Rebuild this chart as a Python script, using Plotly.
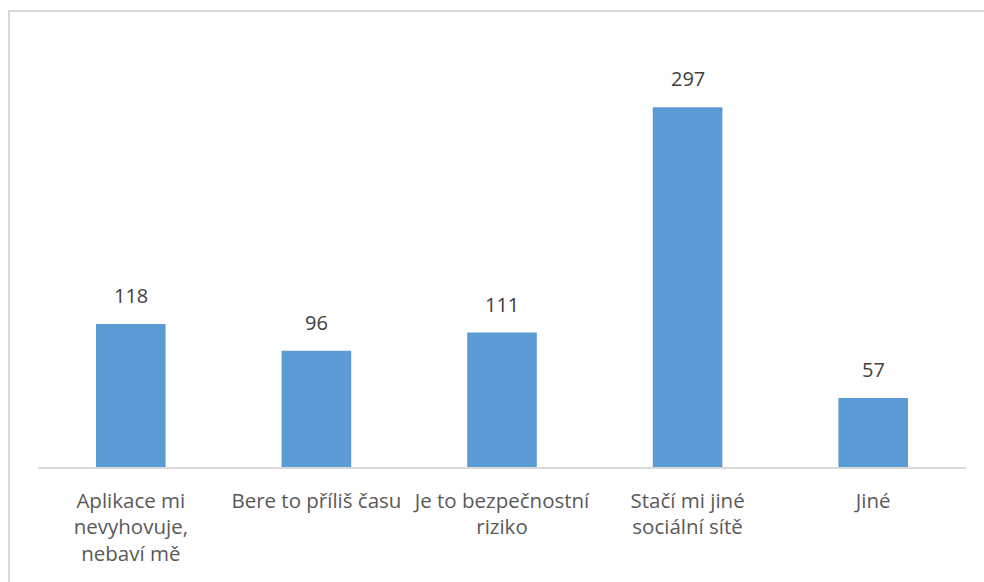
import plotly.graph_objects as go

categories = [
    "Aplikace mi<br>nevyhovuje,<br>nebaví mě",
    "Bere to příliš času",
    "Je to bezpečnostní<br>riziko",
    "Stačí mi jiné<br>sociální sítě",
    "Jiné",
]
values = [118, 96, 111, 297, 57]

W, H = 984, 582
ML, MR, MT, MB = 38, 18, 43, 115
plot_w = W - ML - MR
plot_h = H - MT - MB

fig = go.Figure(
    go.Bar(
        x=categories,
        y=values,
        marker=dict(color="#5b9bd5", line=dict(width=0)),
        width=0.375,
        hoverinfo="skip",
    )
)

# value labels above each bar
for c, v in zip(categories, values):
    fig.add_annotation(
        x=c, y=v, text=str(v), showarrow=False,
        yanchor="bottom", yshift=13,
        font=dict(family="Open Sans", size=20, color="#404040"),
    )

# light chart-area frame (open on the right and bottom)
def px_to_paper_x(px):
    return (px - ML) / plot_w

def px_to_paper_y(py):
    return (H - MB - py) / plot_h

fig.add_shape(
    type="rect", xref="paper", yref="paper",
    x0=px_to_paper_x(9), x1=px_to_paper_x(1000),
    y0=px_to_paper_y(600), y1=px_to_paper_y(11),
    line=dict(color="#d9d9d9", width=2), fillcolor="rgba(0,0,0,0)",
    layer="below",
)

fig.update_layout(
    width=W, height=H,
    margin=dict(l=ML, r=MR, t=MT, b=MB),
    paper_bgcolor="white", plot_bgcolor="white",
    showlegend=False,
    bargap=0.625,
    font=dict(family="Open Sans", size=20, color="#595959"),
)
fig.update_xaxes(
    showline=True, linecolor="#d9d9d9", linewidth=2,
    showgrid=False, ticks="", ticklabelstandoff=14,
    tickfont=dict(family="Open Sans", size=20.5, color="#595959"),
    fixedrange=True,
)
fig.update_yaxes(
    range=[0, 350], visible=False, showgrid=False, zeroline=False,
    fixedrange=True,
)

fig.write_html("out.html", config={"displayModeBar": False})
